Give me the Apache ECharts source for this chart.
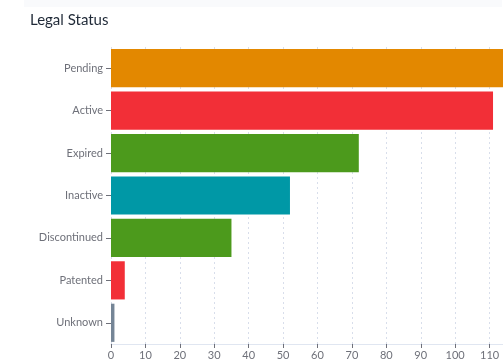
<!DOCTYPE html>
<html>
<head>
<meta charset="utf-8">
<script src="https://cdn.jsdelivr.net/npm/echarts@6/dist/echarts.min.js"></script>
<style>
  html, body { margin: 0; padding: 0; background: #fff; overflow: hidden; }
  /* 顶部浅色条 */
  .band { position: absolute; left: 24px; top: 0; width: 478px; height: 7px; background: #f9fafc; }
  /* 图表比窗口宽，右侧被裁掉 */
  #main { position: absolute; left: 0; top: 0; width: 545px; height: 363px; }
</style>
</head>
<body>
<div class="band"></div>
<div id="main"></div>
<script>
// 分类与数值
var categories = ['Pending', 'Active', 'Expired', 'Inactive', 'Discontinued', 'Patented', 'Unknown'];
var values = [117, 111, 72, 52, 35, 4, 1];
var barColors = ['#e38800', '#f22f37', '#4c9a1c', '#0098a6', '#4c9a1c', '#f22f37', '#758596'];

(function () {
  var myChart = echarts.init(document.getElementById('main'));
  var option = {
    title: {
      text: 'Legal Status',
      left: 25,
      top: 8,
      textStyle: {
        color: '#1f2937',
        fontSize: 15,
        fontWeight: 'normal',
        fontFamily: 'Lato'
      }
    },
    grid: {
      left: 111,
      top: 47,
      right: 21,
      bottom: 19,
      outerBoundsMode: 'none'
    },
    xAxis: {
      type: 'value',
      min: 0,
      max: 120,
      interval: 10,
      axisLine: {
        show: true,
        lineStyle: { color: '#e0e6f1' }
      },
      axisTick: {
        show: true,
        length: 4,
        lineStyle: { color: '#6e7079' }
      },
      axisLabel: {
        color: '#6e7079',
        fontSize: 11,
        fontFamily: 'Lato',
        margin: 6
      },
      splitLine: {
        lineStyle: {
          color: '#d8deeb',
          type: [2, 3]
        }
      }
    },
    yAxis: {
      type: 'category',
      inverse: true,
      data: categories,
      axisLine: { show: false },
      axisTick: {
        show: true,
        alignWithLabel: true,
        length: 5,
        lineStyle: { color: '#6e7079' }
      },
      axisLabel: {
        color: '#6e7079',
        fontSize: 11,
        fontFamily: 'Lato',
        margin: 8
      }
    },
    series: [
      {
        type: 'bar',
        barCategoryGap: '10%',
        data: values.map(function (v, i) {
          return { value: v, itemStyle: { color: barColors[i] } };
        })
      }
    ]
  };
  myChart.setOption(option);
  window.addEventListener('resize', function () {
    myChart.resize();
  });
})();
</script>
</body>
</html>
